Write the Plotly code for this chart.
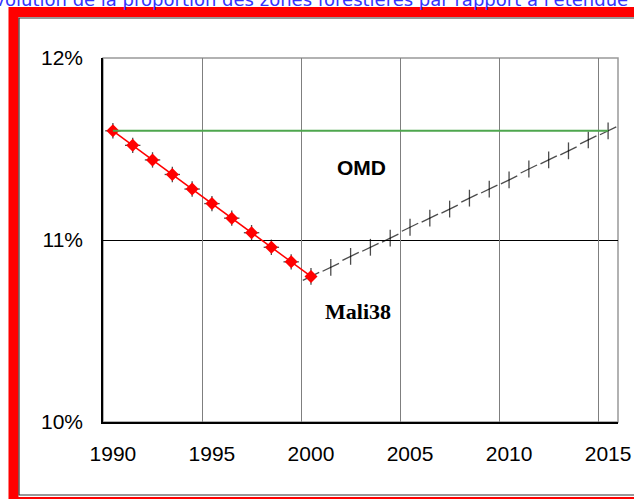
import plotly.graph_objects as go

# observed forest share (Mali), 1990-2000, in % of territory
years_obs = list(range(1990, 2001))
forest_obs = [11.60, 11.52, 11.44, 11.36, 11.28, 11.20, 11.12, 11.04, 10.96, 10.88, 10.80]

# path needed to get back to the MDG target by 2015
years_path = list(range(1990, 2016))
forest_path = [11.60, 11.52, 11.44, 11.36, 11.28, 11.20, 11.12, 11.04, 10.96, 10.88,
               10.80, 10.85, 10.91, 10.96, 11.01, 11.07, 11.12, 11.17, 11.23, 11.28,
               11.33, 11.39, 11.44, 11.49, 11.55, 11.60]

# OMD target line
years_omd = [1990, 2015]
omd_target = [11.60, 11.60]

x_ticks = [1990, 1995, 2000, 2005, 2010, 2015]
x_grid = [1994.5, 1999.5, 2004.5, 2009.5, 2014.5]
y_ticks = [10, 11, 12]
y_labels = ["10%", "11%", "12%"]

fig = go.Figure()

# green target line on the overlay axis that carries the vertical grid
fig.add_trace(go.Scatter(x=years_omd, y=omd_target, mode="lines", xaxis="x2",
                         line=dict(color="#4ea64e", width=2), showlegend=False))

# dashed black path: vertical bar + short tilted dash at every year
angles = [0] * 10 + [-26] * 16
sizes_ew = [11] * 10 + [13] * 16
sizes_ns = [11] * 10 + [12] * 16
fig.add_trace(go.Scatter(x=years_path, y=forest_path, mode="markers", showlegend=False,
                         marker=dict(symbol="line-ew", size=sizes_ew, angle=angles,
                                     line=dict(color="black", width=1.3))))
fig.add_trace(go.Scatter(x=years_path, y=forest_path, mode="markers", showlegend=False,
                         marker=dict(symbol="line-ns", size=sizes_ns,
                                     line=dict(color="black", width=1.3))))

# red observed series
fig.add_trace(go.Scatter(x=years_obs, y=forest_obs, mode="lines+markers", showlegend=False,
                         line=dict(color="red", width=1.5),
                         marker=dict(symbol="diamond", size=10, color="red")))

tick_font = dict(family="Liberation Sans, Arial", size=21, color="black")

fig.update_layout(
    width=634, height=499,
    margin=dict(l=103, r=16, t=58, b=77),
    paper_bgcolor="white", plot_bgcolor="white",
    xaxis=dict(range=[1989.5, 2015.5], tickmode="array", tickvals=x_ticks,
               showgrid=False, zeroline=False, showline=True, linecolor="black",
               linewidth=1.5, ticks="", ticklabelstandoff=12, tickfont=tick_font,
               automargin=False),
    xaxis2=dict(overlaying="x", matches="x", tickmode="array", tickvals=x_grid,
                showgrid=True, gridcolor="#7f7f7f", gridwidth=1.2, showticklabels=False,
                showline=False, zeroline=False, ticks="", automargin=False),
    yaxis=dict(range=[10, 12], tickmode="array", tickvals=y_ticks, ticktext=y_labels,
               showgrid=True, gridcolor="black", gridwidth=1, zeroline=False,
               showline=True, linecolor="black", linewidth=1.5, ticks="",
               ticklabelstandoff=14, tickfont=tick_font, automargin=False),
)

# plot frame and the red border around the whole chart (right side runs off the page)
fig.add_shape(type="rect", xref="paper", yref="paper", x0=0, x1=1, y0=0, y1=1,
              line=dict(color="#999999", width=1.5), layer="below")
fig.add_shape(type="rect", xref="paper", yref="paper", x0=-0.1738, x1=1.12,
              y0=-0.2198, y1=1.1264, line=dict(color="red", width=10))
fig.add_shape(type="rect", xref="paper", yref="paper", x0=-0.1631, x1=1.11,
              y0=-0.2005, y1=1.1099, line=dict(color="#333333", width=1.2))

fig.add_annotation(text="<b>OMD</b>", xref="paper", yref="paper", x=0.502, y=0.70,
                   xanchor="center", yanchor="middle", showarrow=False,
                   font=dict(family="Liberation Sans, Arial", size=21, color="black"))
fig.add_annotation(text="<b>Mali38</b>", xref="paper", yref="paper", x=0.495, y=0.303,
                   xanchor="center", yanchor="middle", showarrow=False,
                   font=dict(family="Liberation Serif, Times New Roman", size=22, color="black"))

# title, partly cut off at the top of the picture
fig.add_annotation(text="Évolution de la proportion des zones forestières par rapport à l'étendue du territoire",
                   xref="paper", yref="paper", x=-0.2369, y=1.161, xanchor="left", yanchor="middle",
                   showarrow=False, font=dict(family="DejaVu Sans", size=18, color="#3333ff"))

# drop the default 8px page margin so the figure sits at the window corner
fig.write_html("out.html", config={"displayModeBar": False},
               post_script="document.body.style.margin='0';")
